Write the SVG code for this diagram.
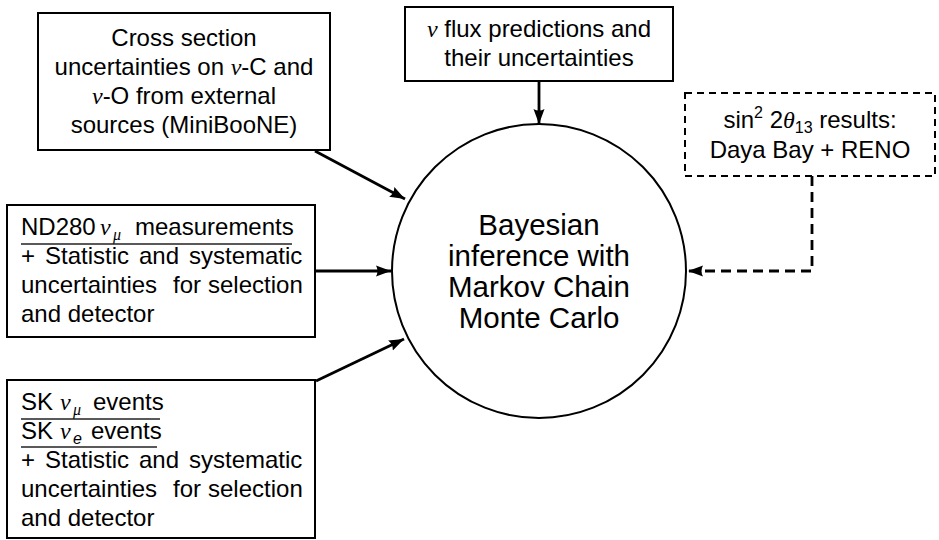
<svg xmlns="http://www.w3.org/2000/svg" width="939" height="540" viewBox="0 0 939 540">
<style>
text{font-family:"Liberation Sans",Arial,Helvetica,sans-serif;font-size:24px;fill:#000}
.c{text-anchor:middle}
.big{font-size:29.5px}
.m{font-family:"Liberation Serif","Times New Roman",serif;font-style:italic}
.sub{font-size:16px}
.box{fill:#fff;stroke:#000;stroke-width:2}
.dbox{fill:#fff;stroke:#000;stroke-width:2;stroke-dasharray:7 5}
.bar{stroke:#222;stroke-width:1.3}
.arr{fill:none;stroke:#000;stroke-width:2.8;marker-end:url(#ah)}
.darr{fill:none;stroke:#000;stroke-width:2.8;stroke-dasharray:10 6;marker-end:url(#ah)}
</style>
<defs>
<marker id="ah" markerUnits="userSpaceOnUse" markerWidth="16" markerHeight="12" refX="15" refY="6" orient="auto">
<path d="M0,0.5 L15,6 L0,11.5 Q3,6 0,0.5 z" fill="#000"/>
</marker>
</defs>

<g id="connectors">
<line class="arr" x1="315" y1="151" x2="405" y2="199"/>
<line class="arr" x1="539" y1="81" x2="539" y2="124"/>
<line class="arr" x1="315" y1="271" x2="391" y2="271"/>
<line class="arr" x1="316" y1="381" x2="404" y2="339"/>
<polyline class="darr" points="812,176 812,271 688,271"/>
</g>

<g id="cross-section">
<rect class="box" x="38" y="13" width="292" height="137"/>
<text class="c" x="184" y="46">Cross section</text>
<text class="c" x="184" y="75">uncertainties on <tspan class="m">ν</tspan>-C and</text>
<text class="c" x="184" y="104"><tspan class="m">ν</tspan>-O from external</text>
<text class="c" x="184" y="133">sources (MiniBooNE)</text>
</g>

<g id="flux">
<rect class="box" x="405" y="7" width="268" height="74"/>
<text class="c" x="539" y="37"><tspan class="m">ν</tspan> flux predictions and</text>
<text class="c" x="539" y="66">their uncertainties</text>
</g>

<g id="theta13">
<rect class="dbox" x="685" y="93" width="250" height="83"/>
<text class="c" x="810" y="128">sin<tspan class="sub" dy="-10">2</tspan><tspan dy="10"> 2</tspan><tspan class="m">θ</tspan><tspan class="sub" dy="5">13</tspan><tspan dy="-5"> results:</tspan></text>
<text class="c" x="810" y="158">Daya Bay + RENO</text>
</g>

<g id="nd280">
<rect class="box" x="7" y="205" width="308" height="132"/>
<text x="21" y="235">ND280</text>
<text class="m" x="100" y="235">ν</text>
<text class="m sub" x="113" y="240">μ</text>
<text x="135" y="235">measurements</text>
<line class="bar" x1="21" y1="244" x2="292" y2="244"/>
<text x="21" y="264">+</text>
<text x="45" y="264">Statistic</text>
<text x="139" y="264">and</text>
<text x="189" y="264">systematic</text>
<text x="21" y="293">uncertainties</text>
<text x="173" y="293">for</text>
<text x="208" y="293">selection</text>
<text x="21" y="322">and detector</text>
</g>

<g id="sk">
<rect class="box" x="7" y="380" width="308" height="158"/>
<text x="21" y="410">SK</text>
<text class="m" x="60" y="410">ν</text>
<text class="m sub" x="73" y="415">μ</text>
<text x="93" y="410">events</text>
<line class="bar" x1="21" y1="419" x2="160" y2="419"/>
<text x="21" y="439">SK</text>
<text class="m" x="60" y="439">ν</text>
<text class="sub" x="73" y="444" font-style="italic">e</text>
<text x="91" y="439">events</text>
<line class="bar" x1="21" y1="447" x2="157" y2="447"/>
<text x="21" y="468">+</text>
<text x="45" y="468">Statistic</text>
<text x="139" y="468">and</text>
<text x="189" y="468">systematic</text>
<text x="21" y="497">uncertainties</text>
<text x="173" y="497">for</text>
<text x="208" y="497">selection</text>
<text x="21" y="526">and detector</text>
</g>

<g id="bayesian">
<circle cx="539" cy="271" r="147" fill="#fff" stroke="#000" stroke-width="2"/>
<text class="c big" x="539" y="235">Bayesian</text>
<text class="c big" x="539" y="266">inference with</text>
<text class="c big" x="539" y="297">Markov Chain</text>
<text class="c big" x="539" y="328">Monte Carlo</text>
</g>
</svg>
